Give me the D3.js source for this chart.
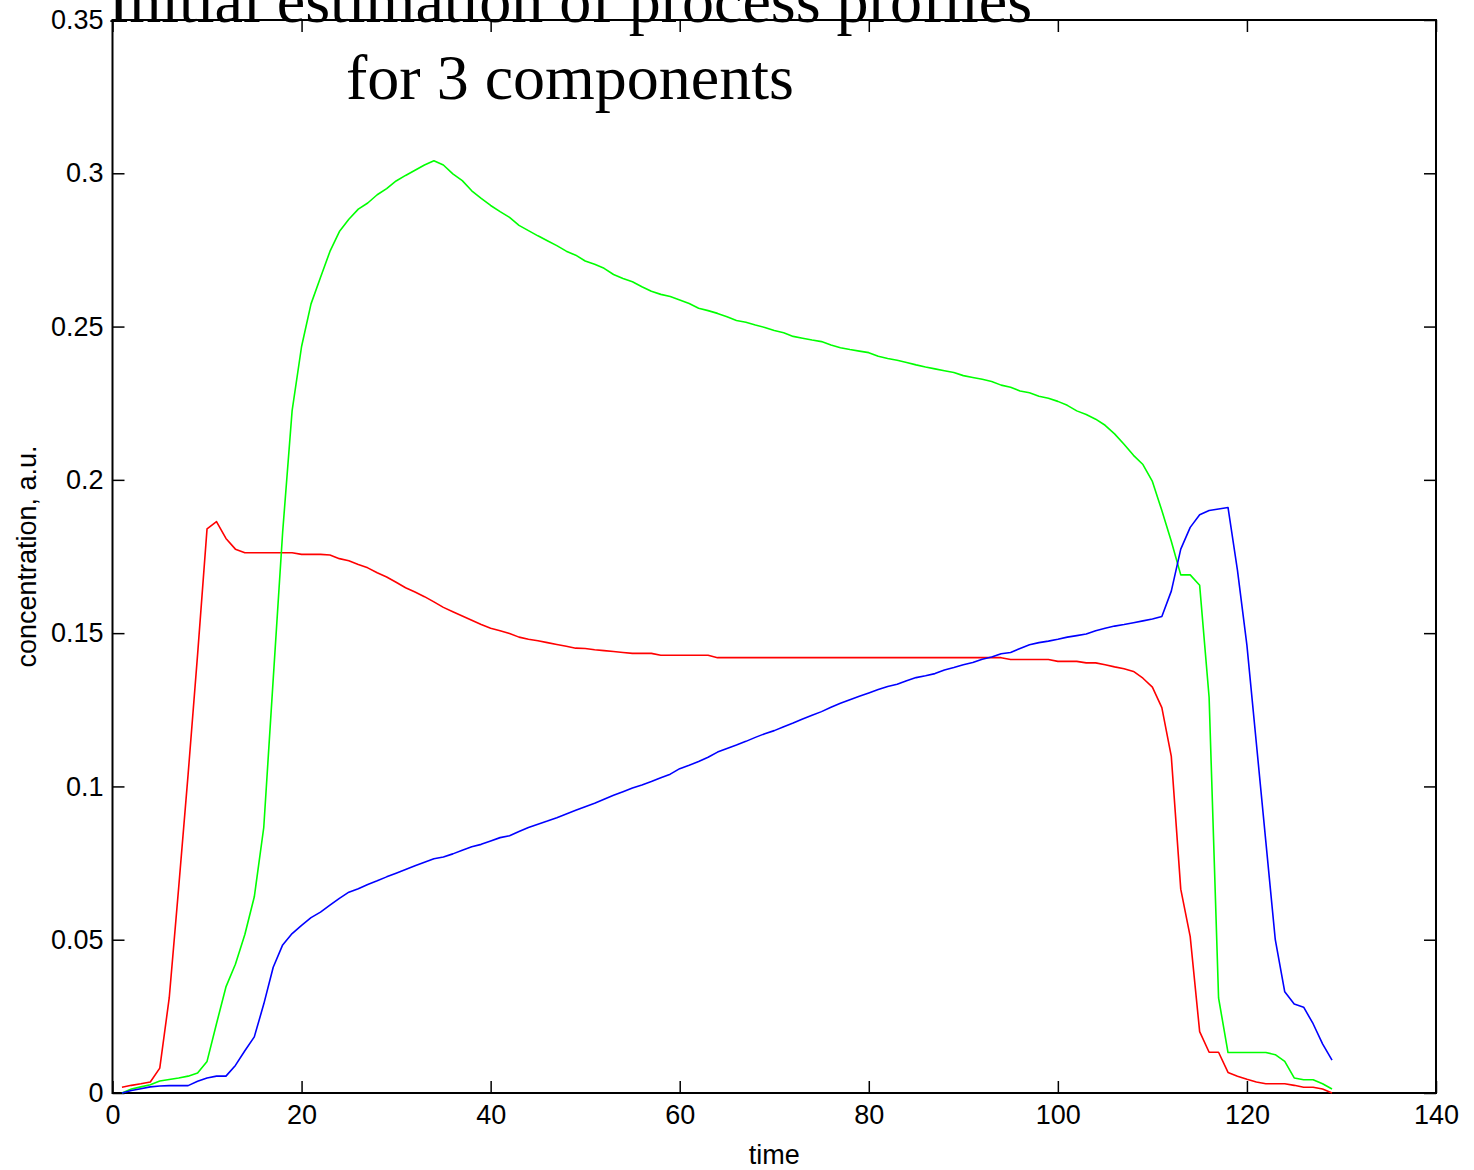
<!DOCTYPE html>
<html>
<head>
<meta charset="utf-8">
<script src="https://cdn.jsdelivr.net/npm/d3@7"></script>
<style>
  body { margin: 0; background: #fff; }
  svg { display: block; }
  .tick text { font-family: "Liberation Sans", Arial, sans-serif; font-size: 27px; fill: #000; }
  .axisLabel { font-family: "Liberation Sans", Arial, sans-serif; font-size: 27px; fill: #000; }
  .title { font-family: "Liberation Serif", "Times New Roman", serif; font-size: 64px; fill: #000; }
</style>
</head>
<body>
<div id="chart"></div>
<script>
//Chart data (sample index 1..129)
const time = d3.range(1, 130)

const red = [
  0.0019, 0.0025, 0.003, 0.0036, 0.0081, 0.031, 0.067, 0.104, 0.143, 0.184,
  0.1864, 0.1809, 0.1774, 0.1762, 0.1762, 0.1762, 0.1762, 0.1762, 0.1762, 0.1757,
  0.1757, 0.1757, 0.1755, 0.1743, 0.1736, 0.1724, 0.1713, 0.1697, 0.1683, 0.1666,
  0.1648, 0.1634, 0.1619, 0.1602, 0.1584, 0.157, 0.1556, 0.1542, 0.1528, 0.1516,
  0.1508, 0.1499, 0.1487, 0.148, 0.1475, 0.1469, 0.1463, 0.1457, 0.1451, 0.145,
  0.1446, 0.1443, 0.144, 0.1437, 0.1434, 0.1434, 0.1434, 0.1428, 0.1428, 0.1428,
  0.1428, 0.1428, 0.1428, 0.142, 0.142, 0.142, 0.142, 0.142, 0.142, 0.142,
  0.142, 0.142, 0.142, 0.142, 0.142, 0.142, 0.142, 0.142, 0.142, 0.142,
  0.142, 0.142, 0.142, 0.142, 0.142, 0.142, 0.142, 0.142, 0.142, 0.142,
  0.142, 0.142, 0.142, 0.142, 0.1414, 0.1414, 0.1414, 0.1414, 0.1414, 0.1408,
  0.1408, 0.1408, 0.1403, 0.1403, 0.1397, 0.139, 0.1384, 0.1375, 0.1353, 0.1324,
  0.1257, 0.1098, 0.0665, 0.051, 0.02, 0.0133, 0.0133, 0.0067, 0.0055, 0.0045,
  0.0036, 0.003, 0.003, 0.003, 0.0025, 0.0019, 0.0019, 0.0013, 0
]

const green = [
  0, 0.0013, 0.002, 0.0027, 0.0039, 0.0044, 0.0049, 0.0055, 0.0065, 0.0103,
  0.0226, 0.0346, 0.042, 0.0517, 0.064, 0.0866, 0.135, 0.183, 0.2226, 0.2435,
  0.2574, 0.266, 0.2745, 0.281, 0.285, 0.2883, 0.2903, 0.293, 0.295, 0.2975,
  0.2993, 0.301, 0.3027, 0.3041, 0.3027, 0.2998, 0.2976, 0.2943, 0.2918, 0.2895,
  0.2875, 0.2856, 0.283, 0.2813, 0.2796, 0.278, 0.2764, 0.2746, 0.2733, 0.2714,
  0.2703, 0.269, 0.267, 0.2657, 0.2646, 0.263, 0.2615, 0.2605, 0.2598, 0.2587,
  0.2575, 0.256, 0.2552, 0.2543, 0.2532, 0.252, 0.2514, 0.2505, 0.2497, 0.2487,
  0.248, 0.2468, 0.2462, 0.2456, 0.2451, 0.244, 0.2431, 0.2425, 0.242, 0.2415,
  0.2403, 0.2396, 0.239, 0.2383, 0.2375, 0.2368, 0.2362, 0.2356, 0.235, 0.234,
  0.2334, 0.2328, 0.2321, 0.2309, 0.2302, 0.229, 0.2284, 0.2273, 0.2266, 0.2256,
  0.2243, 0.2225, 0.2213, 0.2198, 0.2178, 0.215, 0.2116, 0.208, 0.205, 0.1995,
  0.19, 0.18, 0.169, 0.169, 0.1656, 0.129, 0.031, 0.0132, 0.0132, 0.0132,
  0.0132, 0.0132, 0.0125, 0.0103, 0.0049, 0.0043, 0.0043, 0.003, 0.0013
]

const blue = [
  0, 0.0008, 0.0014, 0.002, 0.0023, 0.0024, 0.0024, 0.0024, 0.0038, 0.0049,
  0.0055, 0.0055, 0.009, 0.0138, 0.0183, 0.029, 0.041, 0.0483, 0.052, 0.0547,
  0.0572, 0.059, 0.0613, 0.0635, 0.0655, 0.0666, 0.068, 0.0692, 0.0705, 0.0717,
  0.0729, 0.0741, 0.0753, 0.0764, 0.077, 0.078, 0.0792, 0.0803, 0.0811, 0.0822,
  0.0833, 0.0839, 0.0853, 0.0866, 0.0877, 0.0887, 0.0898, 0.091, 0.0922, 0.0934,
  0.0945, 0.0958, 0.0971, 0.0983, 0.0995, 0.1005, 0.1016, 0.1028, 0.104, 0.1058,
  0.1069, 0.1081, 0.1095, 0.1112, 0.1124, 0.1135, 0.1147, 0.116, 0.1172, 0.1182,
  0.1195, 0.1207, 0.122, 0.1232, 0.1244, 0.1258, 0.1271, 0.1283, 0.1294, 0.1305,
  0.1316, 0.1326, 0.1333, 0.1345, 0.1355, 0.1361, 0.1368, 0.138, 0.1388, 0.1397,
  0.1404, 0.1415, 0.1422, 0.1433, 0.1437, 0.145, 0.1462, 0.1469, 0.1474, 0.148,
  0.1487, 0.1492, 0.1497, 0.1508, 0.1516, 0.1523, 0.1528, 0.1534, 0.154, 0.1546,
  0.1554, 0.1637, 0.1774, 0.1845, 0.1886, 0.19, 0.1905, 0.191, 0.1705, 0.146,
  0.114, 0.082, 0.05, 0.033, 0.029, 0.028, 0.0226, 0.016, 0.0107
]

const seriesColors = ['#ff0000', '#00ff00', '#0000ff']

//Ticks
const xTicks = [0, 20, 40, 60, 80, 100, 120, 140]
const yTicks = [0, 0.05, 0.1, 0.15, 0.2, 0.25, 0.3, 0.35]
const yTickLabels = ['0', '0.05', '0.1', '0.15', '0.2', '0.25', '0.3', '0.35']

const titleLines = ['Initial estimation of process profiles', 'for 3 components']

//Layout
const width = 1474
const height = 1170
const margin = { top: 20, right: 38, bottom: 77, left: 112.5 }
const tickLen = 12

const svg = d3.select('#chart')
  .append('svg')
  .attr('width', width)
  .attr('height', height)

const x = d3.scaleLinear()
  .domain([0, 140])
  .range([margin.left, width - margin.right])

const y = d3.scaleLinear()
  .domain([0, 0.35])
  .range([height - margin.bottom, margin.top])

//Axes (ticks pointing inside, on all four sides)
const axisB = d3.axisBottom(x).tickValues(xTicks).tickSizeInner(-tickLen).tickSizeOuter(0).tickPadding(12)
svg.append('g')
  .attr('transform', `translate(0, ${y(0)})`)
  .call(axisB)

const axisT = d3.axisTop(x).tickValues(xTicks).tickSizeInner(-tickLen).tickSizeOuter(0).tickFormat('')
svg.append('g')
  .attr('transform', `translate(0, ${y(0.35)})`)
  .call(axisT)

const axisL = d3.axisLeft(y).tickValues(yTicks).tickSizeInner(-tickLen).tickSizeOuter(0).tickPadding(9)
  .tickFormat((d, i) => yTickLabels[i])
svg.append('g')
  .attr('transform', `translate(${x(0)}, 0)`)
  .call(axisL)

const axisR = d3.axisRight(y).tickValues(yTicks).tickSizeInner(-tickLen).tickSizeOuter(0).tickFormat('')
svg.append('g')
  .attr('transform', `translate(${x(140)}, 0)`)
  .call(axisR)

svg.selectAll('.domain').remove()
svg.selectAll('.tick line').attr('stroke', '#000').attr('stroke-width', 1.5)

//Frame
svg.append('rect')
  .attr('x', x(0))
  .attr('y', y(0.35))
  .attr('width', x(140) - x(0))
  .attr('height', y(0) - y(0.35))
  .attr('fill', 'none')
  .attr('stroke', '#000')
  .attr('stroke-width', 2)

//Lines
const line = d3.line()
  .x((d, i) => x(time[i]))
  .y(d => y(d))

svg.selectAll('.series')
  .data([red, green, blue])
  .enter()
  .append('path')
  .attr('class', 'series')
  .attr('d', line)
  .attr('fill', 'none')
  .attr('stroke', (d, i) => seriesColors[i])
  .attr('stroke-width', 1.6)
  .attr('stroke-linejoin', 'round')

//Axis labels
svg.append('text')
  .attr('class', 'axisLabel')
  .attr('x', (x(0) + x(140)) / 2)
  .attr('y', 1164)
  .attr('text-anchor', 'middle')
  .text('time')

svg.append('text')
  .attr('class', 'axisLabel')
  .attr('transform', `translate(36, ${(y(0) + y(0.35)) / 2}) rotate(-90)`)
  .attr('text-anchor', 'middle')
  .text('concentration, a.u.')

//Title (first line runs off the top edge, as in the source figure)
svg.selectAll('.title')
  .data(titleLines)
  .enter()
  .append('text')
  .attr('class', 'title')
  .attr('x', 570)
  .attr('y', (d, i) => 22 + i * 77)
  .attr('text-anchor', 'middle')
  .text(d => d)
</script>
</body>
</html>
